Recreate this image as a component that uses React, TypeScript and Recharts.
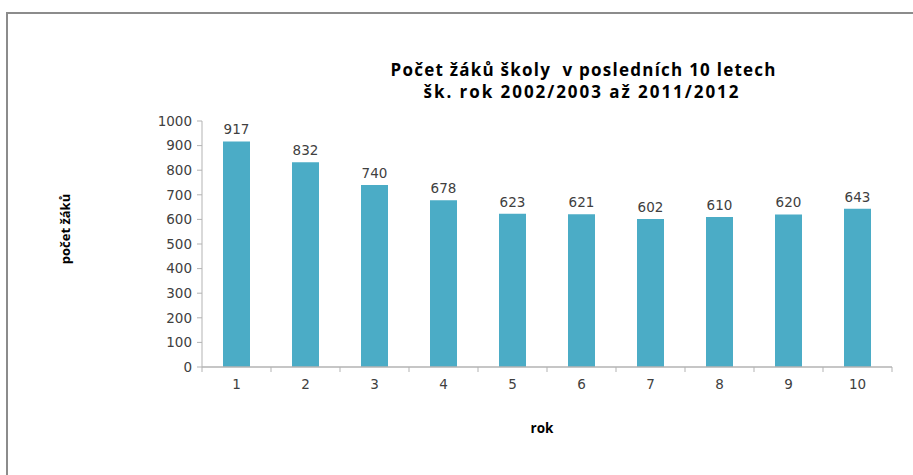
import React from 'react';
import { BarChart, Bar, XAxis, YAxis, LabelList } from 'recharts';

const categories = ['1', '2', '3', '4', '5', '6', '7', '8', '9', '10'];
const pupils = [917, 832, 740, 678, 623, 621, 602, 610, 620, 643];
const yTicks = [0, 100, 200, 300, 400, 500, 600, 700, 800, 900, 1000];
const titleLines = ['Počet žáků školy  v posledních 10 letech', 'šk. rok 2002/2003 až 2011/2012'];
const yAxisTitle = 'počet žáků';
const xAxisTitle = 'rok';

const data = categories.map((c, i) => ({ rok: c, zaci: pupils[i] }));

const TICK_FONT = 'DejaVu Sans, Verdana, sans-serif';
const AXIS_COLOR = '#b3b3b3';
const TEXT_COLOR = '#404040';

const XTick = (props: any) => {
  const { x, y, payload, index } = props;
  const half = payload && typeof payload.offset === 'number' && payload.offset > 0 ? payload.offset : 34.5;
  const isLast = index === categories.length - 1;
  return (
    <g>
      <line x1={x - half} y1={y} x2={x - half} y2={y + 5} stroke={AXIS_COLOR} strokeWidth={1} />
      {isLast && <line x1={x + half} y1={y} x2={x + half} y2={y + 5} stroke={AXIS_COLOR} strokeWidth={1} />}
      <text x={x} y={y + 22} textAnchor="middle" fill={TEXT_COLOR} fontSize={13.5} fontFamily={TICK_FONT}>
        {payload.value}
      </text>
    </g>
  );
};

export default function App() {
  return (
    <div style={{ position: 'absolute', left: 0, top: 0, width: 913, height: 475, overflow: 'hidden', background: '#fff' }}>
      <div
        style={{
          position: 'absolute',
          left: 6,
          top: 12,
          width: 1200,
          height: 1200,
          borderTop: '2px solid #8c8c8c',
          borderLeft: '2px solid #8c8c8c',
        }}
      />
      <div style={{ position: 'absolute', left: 0, top: 0 }}>
        <BarChart width={913} height={475} data={data} margin={{ top: 121, right: 21, bottom: 0, left: 0 }} barCategoryGap={0}>
          <XAxis
            dataKey="rok"
            height={108}
            tickLine={false}
            tickSize={0}
            tickMargin={0}
            axisLine={{ stroke: AXIS_COLOR, strokeWidth: 1.5 }}
            tick={<XTick />}
            interval={0}
          />
          <YAxis
            width={202}
            domain={[0, 1000]}
            ticks={yTicks}
            interval={0}
            tickSize={5}
            tickMargin={5}
            axisLine={{ stroke: AXIS_COLOR, strokeWidth: 1 }}
            tickLine={{ stroke: AXIS_COLOR }}
            tick={{ fill: TEXT_COLOR, fontSize: 13.5, fontFamily: TICK_FONT }}
          />
          <Bar dataKey="zaci" fill="#4BACC6" barSize={27} isAnimationActive={false}>
            <LabelList dataKey="zaci" position="top" offset={7} fill={TEXT_COLOR} fontSize={13.5} fontFamily={TICK_FONT} />
          </Bar>
        </BarChart>
      </div>
      <svg width={913} height={475} style={{ position: 'absolute', left: 0, top: 0, pointerEvents: 'none' }}>
        <text textAnchor="middle" fontFamily="Open Sans, sans-serif" fontWeight="bold" fontSize={17} fill="#000" style={{ whiteSpace: 'pre' }}>
          <tspan x={583} y={76} textLength={385} lengthAdjust="spacing">{titleLines[0]}</tspan>
          <tspan x={581} y={98} textLength={315} lengthAdjust="spacing">{titleLines[1]}</tspan>
        </text>
        <text
          x={0}
          y={0}
          transform="translate(70 229) rotate(-90)"
          textAnchor="middle"
          fontFamily="Open Sans, sans-serif"
          fontWeight="bold"
          fontSize={13}
          fill="#000"
        >
          {yAxisTitle}
        </text>
        <text x={542} y={433} textAnchor="middle" fontFamily="Open Sans, sans-serif" fontWeight="bold" fontSize={13.5} fill="#000">
          {xAxisTitle}
        </text>
      </svg>
    </div>
  );
}
